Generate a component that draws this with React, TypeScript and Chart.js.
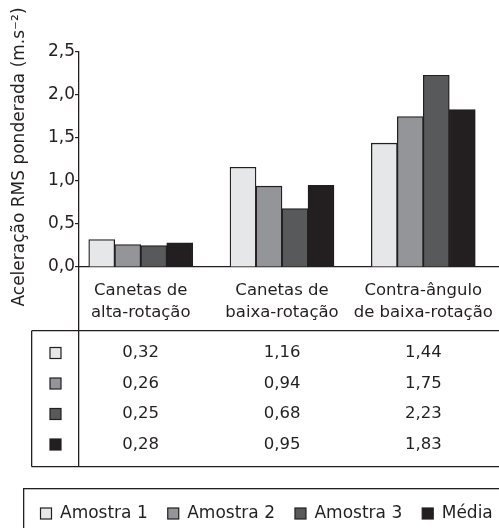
import React, { useEffect, useRef } from "react";
import { Chart, registerables } from "chart.js";

Chart.register(...registerables);

const categories: string[][] = [
  ["Canetas de", "alta-rotação"],
  ["Canetas de", "baixa-rotação"],
  ["Contra-ângulo", "de baixa-rotação"],
];
const seriesNames = ["Amostra 1", "Amostra 2", "Amostra 3", "Média"];
const amostra1 = [0.32, 1.16, 1.44];
const amostra2 = [0.26, 0.94, 1.75];
const amostra3 = [0.25, 0.68, 2.23];
const media = [0.28, 0.95, 1.83];
const seriesValues = [amostra1, amostra2, amostra3, media];
const seriesColors = ["#e6e7e8", "#939598", "#58595b", "#231f20"];
const yTicks = [0, 0.5, 1.0, 1.5, 2.0, 2.5];
const yTitle = "Aceleração RMS ponderada (m.s⁻²)";

const INK = "#231f20";
const FONT = "'DejaVu Sans', sans-serif";
const fmt = (v: number, d: number) => v.toFixed(d).replace(".", ",");

const align = (p: number, w: number) => Math.round(p - w / 2) + w / 2;

const tablePlugin = {
  id: "tableLegend",
  afterDraw(chart: any) {
    const { ctx, chartArea, scales } = chart;
    const xs = scales.x;
    const W = chart.width;
    const lw = 1.3;
    ctx.save();
    ctx.strokeStyle = INK;
    ctx.lineWidth = lw;

    // y axis line continuing through the table
    const ax = align(chartArea.left, lw);
    ctx.beginPath();
    ctx.moveTo(ax, chartArea.bottom);
    ctx.lineTo(ax, 467);
    ctx.stroke();

    // table frame
    const tTop = align(331, lw);
    const tBot = align(467, lw);
    const tLeft = align(32, lw);
    ctx.beginPath();
    ctx.moveTo(tLeft, tTop);
    ctx.lineTo(W + 2, tTop);
    ctx.moveTo(tLeft, tBot);
    ctx.lineTo(W + 2, tBot);
    ctx.moveTo(tLeft, tTop);
    ctx.lineTo(tLeft, tBot);
    ctx.stroke();

    ctx.fillStyle = INK;
    ctx.textAlign = "center";
    ctx.textBaseline = "middle";
    ctx.font = `16.5px ${FONT}`;

    // category labels
    categories.forEach((lines, i) => {
      const cx = xs.getPixelForValue(i);
      lines.forEach((t, j) => {
        ctx.fillText(t, cx, 291 + j * 21.5);
      });
    });

    // data rows
    seriesValues.forEach((vals, r) => {
      const cy = 353 + r * 30.5;
      ctx.fillStyle = seriesColors[r];
      ctx.fillRect(50, cy - 5.5, 11, 11);
      ctx.lineWidth = 1.2;
      ctx.strokeRect(50, cy - 5.5, 11, 11);
      ctx.fillStyle = INK;
      vals.forEach((v, i) => {
        ctx.fillText(fmt(v, 2), xs.getPixelForValue(i), cy);
      });
    });

    // legend box
    ctx.lineWidth = lw;
    ctx.strokeRect(align(24, lw), align(489, lw), W + 20, 100);
    ctx.font = `17px ${FONT}`;
    ctx.textAlign = "left";
    let lx = 40.5;
    const ly = 513.5;
    seriesNames.forEach((name, i) => {
      ctx.fillStyle = seriesColors[i];
      ctx.fillRect(lx, ly - 5.5, 11, 11);
      ctx.lineWidth = 1.2;
      ctx.strokeRect(lx, ly - 5.5, 11, 11);
      ctx.fillStyle = INK;
      ctx.fillText(name, lx + 19.5, ly);
      lx += 19.5 + ctx.measureText(name).width + 20;
    });

    // y axis title
    ctx.save();
    ctx.translate(20, 157);
    ctx.rotate(-Math.PI / 2);
    ctx.textAlign = "center";
    ctx.font = `17px ${FONT}`;
    ctx.fillText(yTitle, 0, 0);
    ctx.restore();

    ctx.restore();
  },
};

export default function App() {
  const ref = useRef<HTMLCanvasElement | null>(null);
  useEffect(() => {
    if (!ref.current) return;
    const chart = new Chart(ref.current, {
      type: "bar",
      data: {
        datasets: seriesValues.map((vals, i) => ({
          label: seriesNames[i],
          data: vals.map((v, j) => ({ x: j, y: v })),
          backgroundColor: seriesColors[i],
          borderColor: INK,
          borderWidth: 1.3,
          barThickness: 26,
        })),
      },
      options: {
        animation: false,
        responsive: false,
        maintainAspectRatio: false,
        devicePixelRatio: 1,
        layout: { padding: { top: 52, left: 0, right: 0, bottom: 261 } },
        plugins: { legend: { display: false }, tooltip: { enabled: false } },
        scales: {
          x: {
            type: "linear",
            offset: false,
            min: -0.437,
            max: 2.536,
            ticks: { display: false, includeBounds: false, stepSize: 1 },
            grid: { display: false, drawTicks: false, offset: false },
            border: { display: true, color: INK, width: 1.3 },
            afterFit: (s: any) => {
              s.height = 0;
            },
          },
          y: {
            min: 0,
            max: 2.5,
            afterBuildTicks: (s: any) => {
              s.ticks = yTicks.map((v) => ({ value: v }));
            },
            ticks: {
              color: INK,
              padding: 0,
              font: { family: FONT, size: 17 },
              callback: (v: any) => fmt(Number(v), 1),
            },
            grid: {
              drawOnChartArea: false,
              drawTicks: true,
              tickLength: 4,
              color: INK,
              lineWidth: 1.2,
            },
            border: { display: true, color: INK, width: 1.3 },
            afterFit: (s: any) => {
              s.width = 79;
            },
          },
        },
      },
      plugins: [tablePlugin],
    } as any);
    return () => chart.destroy();
  }, []);
  return (
    <div style={{ position: "fixed", left: 0, top: 0, width: 499, height: 528, background: "#fff" }}>
      <canvas ref={ref} width={499} height={528} style={{ display: "block" }} />
    </div>
  );
}
